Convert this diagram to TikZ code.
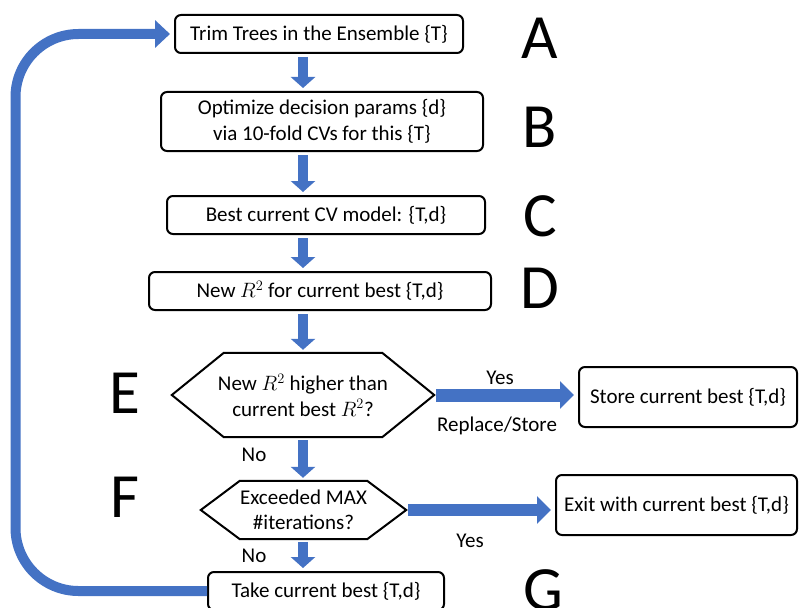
\documentclass[tikz,border=0pt]{standalone}
\usepackage{fontspec}
\setmainfont{Carlito}
\usetikzlibrary{arrows.meta}
\definecolor{bleuFleche}{RGB}{68,114,196}
\tikzset{
  boite/.style={draw, line width=2pt, rounded corners=6pt, inner sep=0pt,
    minimum height=38pt, align=center, font=\fontsize{21}{25.5}\selectfont},
  hexa/.style={inner sep=0pt, align=center, font=\fontsize{21}{25.5}\selectfont},
  lettre/.style={inner sep=0pt, font=\fontsize{63}{63}\selectfont},
  etiq/.style={inner sep=0pt, font=\fontsize{21}{25}\selectfont},
  fleche/.style={draw=bleuFleche, line width=10pt, -{Triangle[width=24pt,length=11pt]},
    shorten <=3pt, shorten >=3pt},
  flecheH/.style={draw=bleuFleche, line width=13pt, -{Triangle[width=27pt,length=14pt]},
    shorten <=2pt, shorten >=4pt},
}
\begin{document}
\begin{tikzpicture}[x=1pt,y=-1pt]
        \useasboundingbox (0,0) rectangle (799,607);
        \coordinate (axe) at (303,0);
        \coordinate (gauche) at (15.5,0);
        % Boites
        \node[boite, minimum width=288pt] (A) at (319,34) {Trim Trees in the Ensemble \{T\}};
        \node[boite, minimum width=322pt, minimum height=59pt] (B) at (322,121.5)
          {Optimize decision params \{d\}\\via 10-fold CVs for this \{T\}};
        \node[boite, minimum width=318pt] (C) at (326,215) {Best current CV model: \{T,d\}};
        \node[boite, minimum width=342pt] (D) at (320,291) {New~$R^{2}$ for current best \{T,d\}};
        \node[boite, minimum width=218pt, minimum height=60pt] (S) at (688,397) {Store current best \{T,d\}};
        \node[boite, minimum width=241pt, minimum height=60pt] (X) at (676.5,505) {Exit with current best \{T,d\}};
        \node[boite, minimum width=236pt] (G) at (326,591) {Take current best \{T,d\}};
        % Hexagones
        \node[hexa, minimum width=262pt, minimum height=84pt] (E) at (303,395)
          {New~$R^{2}$ higher than\\current best~$R^{2}$?};
        \draw[line width=2pt] (E.west) -- ([xshift=52pt]E.north west) -- ([xshift=-52pt]E.north east)
          -- (E.east) -- ([xshift=-52pt]E.south east) -- ([xshift=52pt]E.south west) -- cycle;
        \node[hexa, minimum width=205pt, minimum height=58pt] (F) at (303.5,510)
          {Exceeded MAX\\\#iterations?};
        \draw[line width=2pt] (F.west) -- ([xshift=39pt]F.north west) -- ([xshift=-39pt]F.north east)
          -- (F.east) -- ([xshift=-39pt]F.south east) -- ([xshift=39pt]F.south west) -- cycle;
        % Lettres
        \node[lettre] (lA) at (540,38) {A};
        \node[lettre] (lB) at (540,127) {B};
        \node[lettre] (lC) at (540,216) {C};
        \node[lettre] (lD) at (540,288) {D};
        \node[lettre] (lE) at (125,393) {E};
        \node[lettre] (lF) at (125,497) {F};
        \node[lettre] (lG) at (543,590) {G};
        % Fleches
        \draw[fleche] (A.south -| axe) -- (B.north -| axe);
        \draw[fleche] (B.south -| axe) -- (C.north -| axe);
        \draw[fleche] (C.south -| axe) -- (D.north -| axe);
        \draw[fleche] (D.south -| axe) -- (E.north -| axe);
        \draw[fleche] (E.south -| axe) -- (F.north -| axe);
        \draw[fleche] (F.south -| axe) -- (G.north -| axe);
        \draw[flecheH] (E.east) -- (E.east -| S.west);
        \draw[flecheH, line width=12pt] (F.east) -- (F.east -| X.west);
        \draw[draw=bleuFleche, line width=10pt, rounded corners=63pt, -{Triangle[width=27pt,length=15pt]},
          shorten >=4pt] (G.west) -- (G.west -| gauche) -- (A.west -| gauche) -- (A.west);
        % Etiquettes
        \node[etiq] (oui1) at (500,378) {Yes};
        \node[etiq] (rempl) at (497,426) {Replace/Store};
        \node[etiq] (non1) at (254,455) {No};
        \node[etiq] (oui2) at (470,541) {Yes};
        \node[etiq] (non2) at (254,556) {No};
\end{tikzpicture}
\end{document}
